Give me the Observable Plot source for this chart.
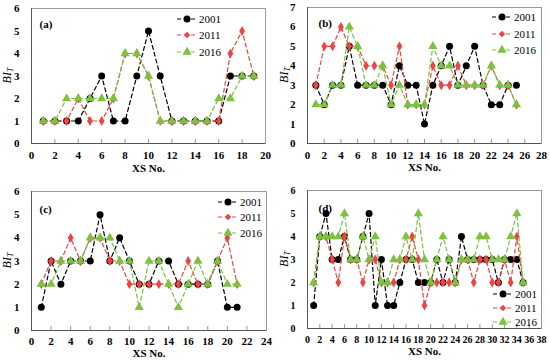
<!DOCTYPE html>
<html><head><meta charset="utf-8">
<script src="https://cdn.jsdelivr.net/npm/d3@7"></script>
<script src="https://cdn.jsdelivr.net/npm/@observablehq/plot@0.6"></script>
<style>
body{margin:0;background:#fff}
#wrap{position:relative;width:550px;height:362px;font-family:"Liberation Serif","Times New Roman",serif}
.panel{position:absolute}
#legend{position:absolute;left:0;top:0;pointer-events:none}
</style></head><body><div id="wrap"></div>
<script>
const years = ["2001", "2011", "2016"];
const colors = ["#000000", "#ee4343", "#7cc142"];
const symbols = ["circle", "diamond", "triangle"];
const radii = [3.5, 3.0, 3.4];

// Panel (a)
const a2001 = [1,1,1,1,2,3,1,1,3,5,3,1,1,1,1,1,3,3,3];
const a2011 = [1,1,1,2,1,1,2,4,4,3,1,1,1,1,1,1,4,5,3];
const a2016 = [1,1,2,2,2,2,2,4,4,3,1,1,1,1,1,2,2,3,3];
const aXTicks = [0,2,4,6,8,10,12,14,16,18,20];
const aYTicks = [0,1,2,3,4,5,6];

// Panel (b)
const b2001 = [3,2,3,3,5,3,3,3,3,2,4,3,3,1,3,4,5,3,4,5,3,2,2,3,3];
const b2011 = [3,5,5,6,5,5,4,4,4,3,5,2,2,2,4,3,3,4,3,3,3,4,3,3,2];
const b2016 = [2,2,3,3,6,5,3,3,4,2,3,2,2,2,5,4,4,3,3,3,3,4,3,3,2];
const bXTicks = [0,2,4,6,8,10,12,14,16,18,20,22,24,26,28];
const bYTicks = [0,1,2,3,4,5,6,7];

// Panel (c)
const c2001 = [1,3,2,3,3,3,5,3,4,3,2,2,3,3,2,2,2,2,3,1,1];
const c2011 = [2,3,3,4,3,4,4,3,3,2,2,2,2,2,2,3,2,2,3,4,2];
const c2016 = [2,2,3,3,3,4,4,4,3,3,1,3,3,2,1,2,3,2,3,2,2];
const cXTicks = [0,2,4,6,8,10,12,14,16,18,20,22,24];
const cYTicks = [0,1,2,3,4,5,6];

// Panel (d)
const d2001 = [1,4,5,3,3,4,3,3,4,5,1,3,1,1,2,3,3,2,2,2,3,2,3,2,4,3,3,3,3,3,2,3,3,3,2];
const d2011 = [2,4,4,3,2,4,3,3,2,3,3,2,2,2,3,3,4,3,1,2,2,2,2,2,3,3,2,3,3,2,2,3,2,4,2];
const d2016 = [2,4,4,4,4,5,3,3,4,3,4,2,2,3,3,4,3,5,3,2,3,4,3,2,3,3,3,4,4,3,3,3,4,5,2];
const dXTicks = [0,2,4,6,8,10,12,14,16,18,20,22,24,26,28,30,32,34,36,38];
const dYTicks = [0,1,2,3,4,5,6];

const panels = [
  {id:"(a)", series:[a2001,a2011,a2016], xt:aXTicks, yt:aYTicks, left:0, top:0,
   m:{t:8,b:38,l:31,r:10}, lab:{dx:8,dy:12}, xsDy:28, tp:8, biX:8, xfs:11,
   leg:{x:177, y:[19,35,52]}},
  {id:"(b)", series:[b2001,b2011,b2016], xt:bXTicks, yt:bYTicks, left:275, top:0,
   m:{t:7,b:38,l:32,r:9}, lab:{dx:11,dy:12}, xsDy:27, tp:8, biX:10, xfs:11,
   leg:{x:492, y:[17,34,50]}},
  {id:"(c)", series:[c2001,c2011,c2016], xt:cXTicks, yt:cYTicks, left:0, top:181,
   m:{t:10,b:32,l:31,r:9}, lab:{dx:8,dy:14}, xsDy:26, tp:7, biX:8, xfs:11,
   leg:{x:218, y:[202,217,233]}},
  {id:"(d)", series:[d2001,d2011,d2016], xt:dXTicks, yt:dYTicks, left:275, top:181,
   m:{t:9,b:34,l:32,r:9}, lab:{dx:11,dy:14}, xsDy:26, tp:7, biX:10, xfs:10,
   leg:{x:493, y:[294,308,322]}}
];

const wrap = document.getElementById("wrap");
const serif = '"Liberation Serif","Times New Roman",serif';

for (const p of panels) {
  const W = 275, H = 181;
  const innerH = H - p.m.t - p.m.b;
  const xMin = p.xt[0], xMax = p.xt[p.xt.length-1];
  const yMin = p.yt[0], yMax = p.yt[p.yt.length-1];
  const seriesMarks = p.series.flatMap((arr, k) => {
    const data = arr.map((v, i) => ({x: i + 1, y: v}));
    return [
      Plot.line(data, {x: "x", y: "y", stroke: colors[k], strokeWidth: 1.2, strokeDasharray: "4,3"}),
      Plot.dot(data, {x: "x", y: "y", symbol: () => symbols[k], fill: colors[k], stroke: "none", r: radii[k]})
    ];
  });
  const plot = Plot.plot({
    width: W, height: H,
    marginTop: p.m.t, marginBottom: p.m.b, marginLeft: p.m.l, marginRight: p.m.r,
    style: {fontFamily: serif, fontSize: p.xfs + "px", fontWeight: "bold", color: "#000", background: "transparent"},
    symbol: {range: symbols, domain: symbols},
    x: {domain: [xMin, xMax], ticks: p.xt, tickSize: 0, tickPadding: p.tp, label: null, tickFormat: d => d},
    y: {domain: [yMin, yMax], ticks: p.yt, tickSize: 0, tickPadding: 12, label: null, tickFormat: d => d},
    marks: [
      Plot.frame({stroke: "#9a9a9a"}),
      Plot.ruleX([xMin], {stroke: "#555"}),
      Plot.ruleY([yMin], {stroke: "#555"}),
      Plot.tickX(p.xt.slice(1, -1), {x: d => d, insetTop: innerH - 4, stroke: "#999"}),
      ...seriesMarks,
      Plot.text([p.id], {frameAnchor: "top-left", dx: p.lab.dx, dy: p.lab.dy, textAnchor: "start", fontSize: 11, fontWeight: "bold"}),
      Plot.text(["XS No."], {frameAnchor: "bottom", dy: p.xsDy, fontSize: 11, fontWeight: "bold"})
    ]
  });
  plot.classList.add("panel");
  plot.style.left = p.left + "px";
  plot.style.top = p.top + "px";
  wrap.appendChild(plot);
  // y-axis label BI_T
  const svg = d3.select(plot);
  const cy = p.m.t + innerH / 2;
  const t = svg.append("text")
    .attr("transform", `translate(${p.biX},${cy}) rotate(-90)`)
    .attr("text-anchor", "middle")
    .attr("dominant-baseline", "middle")
    .style("font-family", serif)
    .style("font-style", "italic")
    .style("font-weight", "normal")
    .style("font-size", "12px");
  t.append("tspan").text("BI");
  t.append("tspan").attr("font-size", "8px").attr("dy", "3").text("T");
}

// Legends
const leg = d3.select(wrap).append("svg").attr("id", "legend").attr("width", 550).attr("height", 362);
for (const p of panels) {
  years.forEach((yr, k) => {
    const y = p.leg.y[k], x0 = p.leg.x;
    leg.append("line").attr("x1", x0).attr("x2", x0 + 20).attr("y1", y).attr("y2", y)
      .attr("stroke", colors[k]).attr("stroke-width", 1.2).attr("stroke-dasharray", "4,3");
    const sym = {circle: d3.symbolCircle, diamond: d3.symbolDiamond2, triangle: d3.symbolTriangle}[symbols[k]];
    const sz = symbols[k] === "diamond" ? 26 : Math.PI * radii[k] * radii[k];
    leg.append("path").attr("d", d3.symbol(sym, sz)()).attr("transform", `translate(${x0 + 10},${y})`).attr("fill", colors[k]);
    leg.append("text").attr("x", x0 + 22).attr("y", y).attr("dy", "0.35em")
      .style("font-family", serif).style("font-size", "11px").text(yr);
  });
}
</script>
</body></html>
